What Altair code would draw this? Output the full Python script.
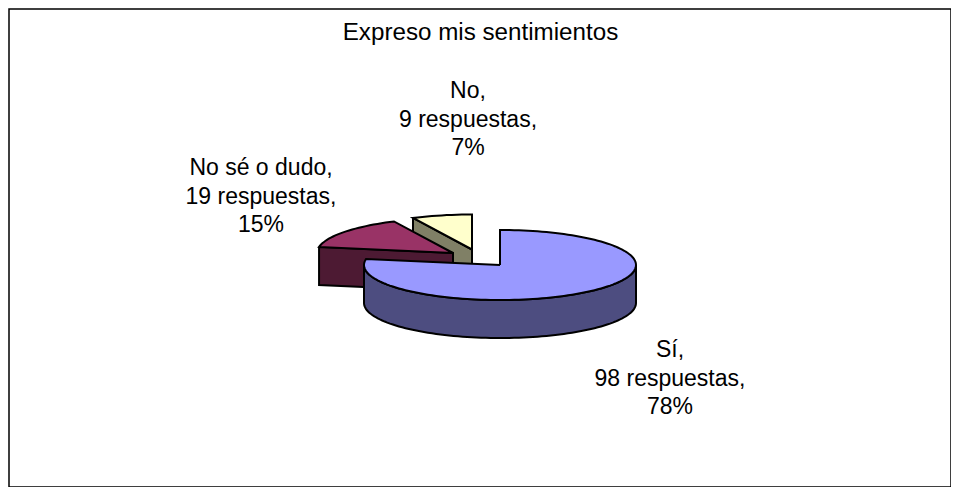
import math
import altair as alt
import pandas as pd

# Chart values
CATEGORIES = ["Sí", "No sé o dudo", "No"]
RESPONSES = [98, 19, 9]
PERCENT_LABELS = ["78%", "15%", "7%"]
TITLE = "Expreso mis sentimientos"

# Styles
TOP_COLORS = ["#9999FF", "#993366", "#FFFFCC"]
SIDE_COLORS = ["#4D4D80", "#4D1A33", "#808066"]
FONT = "Liberation Sans"
TITLE_SIZE = 24.2
LABEL_SIZE = 23

# Layout: page pixels of the reference
PAD = 1
W, H = 942, 478
ORIGIN = 8 + PAD
CX, CY, RX = 500, 265, 136
TILT = 35 / RX
DEPTH = 38 / RX
EXPLODE = [(0, 0), (-47 / RX, 12 / RX), (-28 / RX, 15.5 / RX)]
LABEL_POS = [(670, 350), (261, 168), (468, 91)]

x_scale = alt.Scale(domain=[(ORIGIN - CX) / RX, (ORIGIN + W - CX) / RX], range=[0, W], nice=False, zero=False)
y_scale = alt.Scale(domain=[(CY - ORIGIN) / RX, (CY - ORIGIN - H) / RX], range=[0, H], nice=False, zero=False)
px_x = alt.Scale(domain=[ORIGIN, ORIGIN + W], range=[0, W], nice=False, zero=False)
px_y = alt.Scale(domain=[ORIGIN, ORIGIN + H], range=[0, H], nice=False, zero=False)


def rim(a, off=(0, 0), drop=0.0):
    return (off[0] + math.sin(a), off[1] + TILT * math.cos(a) - drop)


def arc_pts(a0, a1, off, drop=0.0):
    n = max(2, int(abs(a1 - a0) / math.radians(2)))
    return [rim(a0 + (a1 - a0) * i / n, off, drop) for i in range(n + 1)]


def polygon(points, fill):
    pts = list(points) + [points[0]]
    df = pd.DataFrame({"x": [p[0] for p in pts], "y": [p[1] for p in pts], "i": range(len(pts))})
    return alt.Chart(df).mark_line(
        fill=fill, stroke="#000000", strokeWidth=2, strokeJoin="miter", clip=True
    ).encode(
        x=alt.X("x:Q", scale=x_scale, axis=None),
        y=alt.Y("y:Q", scale=y_scale, axis=None),
        order="i:Q",
    )


total = sum(RESPONSES)
angles = []
acc = 0
for v in RESPONSES:
    angles.append((acc / total * 2 * math.pi, (acc + v) / total * 2 * math.pi))
    acc += v

layers = []
# Yellow slice: the cut face towards the viewer, then the top
a0, a1 = angles[2]
off = EXPLODE[2]
c = (off[0], off[1])
cd = (off[0], off[1] - DEPTH)
layers.append(polygon([rim(a0, off), c, cd, rim(a0, off, DEPTH)], SIDE_COLORS[2]))
layers.append(polygon([c] + arc_pts(a0, a1, off), TOP_COLORS[2]))
# Burgundy slice
a0, a1 = angles[1]
off = EXPLODE[1]
c = (off[0], off[1])
cd = (off[0], off[1] - DEPTH)
layers.append(polygon([rim(a0, off), c, cd, rim(a0, off, DEPTH)], SIDE_COLORS[1]))
layers.append(polygon([c] + arc_pts(a0, a1, off), TOP_COLORS[1]))
# Blue slice: outer wall, then the top
a0, a1 = angles[0]
off = EXPLODE[0]
wall_a0, wall_a1 = math.pi / 2, 3 * math.pi / 2
layers.append(polygon(arc_pts(wall_a0, wall_a1, off) + arc_pts(wall_a1, wall_a0, off, DEPTH), SIDE_COLORS[0]))
layers.append(polygon([(off[0], off[1])] + arc_pts(a0, a1, off), TOP_COLORS[0]))

labels = pd.DataFrame({
    "text": [f"{c},\n{v} respuestas,\n{p}" for c, v, p in zip(CATEGORIES, RESPONSES, PERCENT_LABELS)],
    "px": [p[0] for p in LABEL_POS],
    "py": [p[1] for p in LABEL_POS],
})
layers.append(
    alt.Chart(labels).mark_text(font=FONT, fontSize=LABEL_SIZE, lineBreak="\n", lineHeight=28.5, color="#000000", baseline="middle", align="center").encode(
        x=alt.X("px:Q", scale=px_x, axis=None),
        y=alt.Y("py:Q", scale=px_y, axis=None),
        text="text:N",
    )
)

chart = alt.layer(*layers).resolve_scale(x="independent", y="independent").properties(
    width=W,
    height=H,
    padding={"left": PAD, "top": PAD, "right": 0, "bottom": 0},
    autosize=alt.AutoSizeParams(type="none"),
    title=alt.TitleParams(
        TITLE, anchor="middle", font=FONT, fontSize=TITLE_SIZE, fontWeight="normal", color="#000000",
        dx=0.5, dy=48, baseline="middle", offset=0,
    ),
).configure_view(stroke="#000000", strokeWidth=1.5)

chart.save("out.html", embed_options={"renderer": "svg", "actions": False})
